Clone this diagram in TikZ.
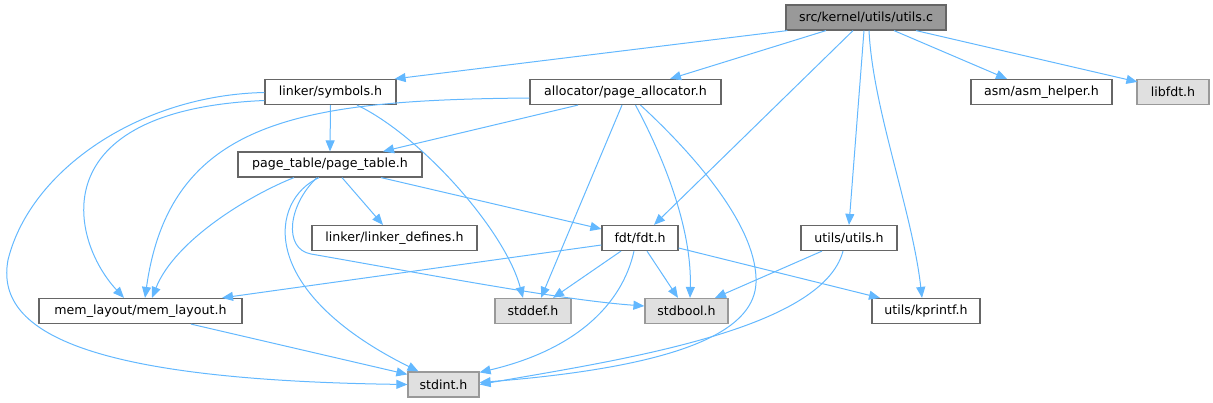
\documentclass[tikz,border=0pt]{standalone}
\usepackage{fontspec}
\setmainfont{DejaVu Sans}
\usetikzlibrary{arrows.meta}
\definecolor{edgec}{HTML}{63B8FF}
\definecolor{bordc}{HTML}{666666}
\definecolor{extfill}{HTML}{E0E0E0}
\definecolor{extbord}{HTML}{999999}
\definecolor{mainfill}{HTML}{999999}
\begin{document}
\begin{tikzpicture}[x=1pt,y=-1pt,
  box/.style={draw=bordc, fill=white, line width=1.2pt, minimum height=25pt, inner sep=0pt,
    font=\fontsize{12.6}{14}\selectfont},
  ext/.style={box, draw=extbord, fill=extfill},
  mainbox/.style={box, fill=mainfill},
  dep/.style={draw=edgec, line width=1pt, -{Triangle[length=11pt,width=9pt]}}]
\useasboundingbox (0,0) rectangle (1213,403);

\node[mainbox, minimum width=160pt] (main) at (866,17.5) {src/kernel/utils/utils.c};
\node[box, minimum width=131pt] (symbols) at (330.5,92) {linker/symbols.h};
\node[box, minimum width=191pt] (alloc) at (625.5,92) {allocator/page\_allocator.h};
\node[box, minimum width=141pt] (asm) at (1041.5,92) {asm/asm\_helper.h};
\node[ext, minimum width=72pt] (libfdt) at (1173,92) {libfdt.h};
\node[box, minimum width=184pt] (pagetable) at (330,164.5) {page\_table/page\_table.h};
\node[box, minimum width=165pt] (ldef) at (394.5,238) {linker/linker\_defines.h};
\node[box, minimum width=76pt] (fdt) at (640,238) {fdt/fdt.h};
\node[box, minimum width=96pt] (utilsh) at (849,238) {utils/utils.h};
\node[box, minimum width=203pt] (mem) at (140.5,311) {mem\_layout/mem\_layout.h};
\node[ext, minimum width=76pt] (stddef) at (533,311) {stddef.h};
\node[ext, minimum width=83pt] (stdbool) at (686.5,311) {stdbool.h};
\node[box, minimum width=108pt] (kprintf) at (926,311) {utils/kprintf.h};
\node[ext, minimum width=71pt] (stdint) at (443.5,384.5) {stdint.h};

% from utils.c
\draw[dep] ([xshift=2pt]main.south west) -- ([xshift=-2pt]symbols.north east);
\draw[dep] ([xshift=-40pt]main.south) -- ([xshift=44.5pt]alloc.north);
\draw[dep] ([xshift=-13pt]main.south) -- ([xshift=14pt]fdt.north);
\draw[dep] ([xshift=-2pt]main.south) -- (utilsh.north);
\draw[dep] ([xshift=3pt]main.south) .. controls (873,110) and (912,210) .. ([xshift=-4pt]kprintf.north);
\draw[dep] ([xshift=28pt]main.south) -- ([xshift=-34.5pt]asm.north);
\draw[dep] ([xshift=50pt]main.south) -- ([xshift=1pt,yshift=-3pt]libfdt.north west);

% from linker/symbols.h
\draw[dep] (symbols.south) -- (pagetable.north);
\draw[dep] ([xshift=26.5pt]symbols.south) .. controls (420,135) and (505,230) .. ([xshift=-10pt]stddef.north);
\draw[dep] ([yshift=-8.5pt]symbols.west) .. controls (40,110) and (70,240) .. ([xshift=-16.5pt]mem.north);
\draw[dep] ([yshift=-0.5pt]symbols.west) .. controls (140,95) and (30,170) .. (8,260)
  .. controls (-5,330) and (80,380) .. (stdint.west);

% from allocator/page_allocator.h
\draw[dep] ([xshift=-47.5pt]alloc.south) -- ([xshift=53pt]pagetable.north);
\draw[dep] ([yshift=-6pt]alloc.west) .. controls (300,100) and (170,120) .. ([xshift=4.5pt]mem.north);
\draw[dep] ([xshift=-3.5pt]alloc.south) -- ([xshift=8pt]stddef.north);
\draw[dep] ([xshift=10pt]alloc.south) .. controls (665,160) and (692,230) .. ([xshift=3.5pt]stdbool.north);
\draw[dep] ([xshift=15pt]alloc.south) .. controls (700,160) and (758,230) .. (756,283)
  .. controls (754,325) and (700,365) .. ([yshift=2pt]stdint.east);

% from page_table/page_table.h
\draw[dep] ([xshift=-36pt]pagetable.south) .. controls (250,195) and (175,240) .. ([xshift=11.5pt]mem.north);
\draw[dep] ([xshift=-11pt]pagetable.south) .. controls (270,200) and (255,290) .. ([xshift=-25pt]stdint.north);
\draw[dep] ([xshift=-13pt]pagetable.south) .. controls (288,205) and (283,249) .. (311,254)
  .. controls (420,273) and (560,300) .. ([yshift=5pt]stdbool.west);
\draw[dep] ([xshift=12pt]pagetable.south) -- ([xshift=-11.5pt]ldef.north);
\draw[dep] ([xshift=51pt]pagetable.south) -- ([yshift=9pt]fdt.west);

% from fdt/fdt.h
\draw[dep] ([yshift=-7pt]fdt.west) -- ([xshift=81.5pt]mem.north);
\draw[dep] ([xshift=-19pt]fdt.south) -- ([xshift=20pt]stddef.north);
\draw[dep] ([xshift=-6pt]fdt.south) .. controls (622,305) and (575,350) .. ([yshift=-1pt]stdint.north east);
\draw[dep] ([xshift=7pt]fdt.south) -- ([xshift=-8.5pt]stdbool.north);
\draw[dep] ([yshift=-10pt]fdt.east) -- ([xshift=-46pt]kprintf.north);

% from utils/utils.h
\draw[dep] ([xshift=-27pt]utilsh.south) -- ([xshift=28.5pt]stdbool.north);
\draw[dep] ([xshift=-6pt]utilsh.south) .. controls (822,330) and (620,360) .. (stdint.east);

% from mem_layout/mem_layout.h
\draw[dep] ([xshift=50.5pt]mem.south) -- ([yshift=-3pt]stdint.north west);
\end{tikzpicture}
\end{document}
